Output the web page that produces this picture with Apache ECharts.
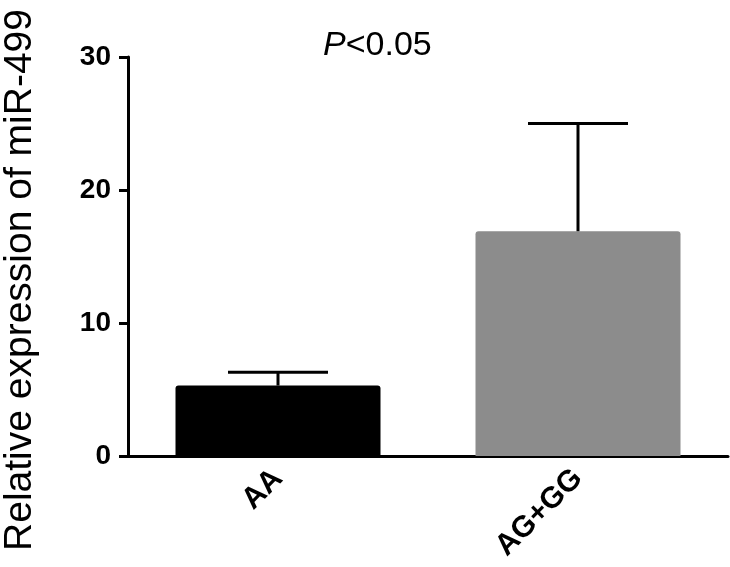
<!DOCTYPE html>
<html>
<head>
<meta charset="utf-8">
<script src="https://cdn.jsdelivr.net/npm/echarts@6/dist/echarts.min.js"></script>
<style>
html,body{margin:0;padding:0;background:#fff;}
#chart{width:730px;height:567px;}
</style>
</head>
<body>
<div id="chart"></div>
<script>
const categories = ['AA', 'AG+GG'];
const meanValues = [5.3, 16.9];
const upperValues = [6.3, 25.0];
const barColors = ['#000000', '#8c8c8c'];
const yTicks = [0, 10, 20, 30];

const FONT = '"Liberation Sans", Arial, Helvetica, sans-serif';
const chart = echarts.init(document.getElementById('chart'));

const errData = categories.map((c, i) => [i, meanValues[i], upperValues[i]]);

chart.setOption({
  animation: false,
  backgroundColor: '#fff',
  title: {
    text: '{i|P}<0.05',
    left: 318,
    top: 24,
    textStyle: {
      fontFamily: FONT, fontSize: 34, fontWeight: 'normal', color: '#000',
      rich: { i: { fontFamily: FONT, fontSize: 34, fontStyle: 'italic', color: '#000' } }
    }
  },
  graphic: [{
    type: 'text',
    x: 20,
    y: 280,
    rotation: Math.PI / 2,
    style: {
      text: 'Relative expression of miR-499',
      fontFamily: FONT, fontSize: 39, fill: '#000',
      align: 'center', verticalAlign: 'middle'
    }
  }],
  grid: { left: 128, right: 2, top: 57, bottom: 111, containLabel: false, outerBoundsMode: 'none' },
  xAxis: {
    type: 'category',
    data: categories,
    axisLine: { lineStyle: { color: '#000', width: 3 } },
    axisTick: { alignWithLabel: true, length: 8, lineStyle: { color: '#000', width: 3 } },
    axisLabel: {
      interval: 0, rotate: 45, margin: 18,
      fontFamily: FONT, fontSize: 30, fontWeight: 'bold', color: '#000'
    },
    splitLine: { show: false }
  },
  yAxis: {
    type: 'value',
    min: 0, max: 30, interval: 10,
    axisLine: { show: true, lineStyle: { color: '#000', width: 3 } },
    axisTick: { show: true, length: 9, lineStyle: { color: '#000', width: 3 } },
    axisLabel: {
      margin: 17, fontFamily: FONT, fontSize: 28, fontWeight: 'bold', color: '#000',
      formatter: v => (yTicks.indexOf(v) >= 0 ? String(v) : '')
    },
    splitLine: { show: false }
  },
  series: [
    {
      type: 'bar',
      barWidth: 205,
      data: meanValues.map((v, i) => ({
        value: v,
        itemStyle: { color: barColors[i], borderRadius: [3, 3, 0, 0] }
      })),
      z: 2
    },
    {
      type: 'custom',
      data: errData,
      z: 3,
      renderItem: function (params, api) {
        const x = api.value(0);
        const low = api.coord([x, api.value(1)]);
        const high = api.coord([x, api.value(2)]);
        const half = 50;
        const style = { stroke: '#000', lineWidth: 3 };
        return {
          type: 'group',
          children: [
            { type: 'line', shape: { x1: low[0], y1: low[1], x2: high[0], y2: high[1] }, style: style },
            { type: 'line', shape: { x1: high[0] - half, y1: high[1], x2: high[0] + half, y2: high[1] }, style: style }
          ]
        };
      }
    }
  ]
});
</script>
</body>
</html>
